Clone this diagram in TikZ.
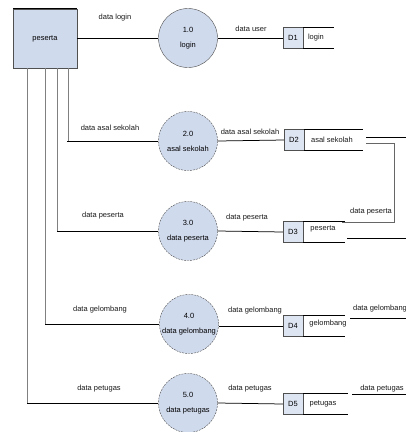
\documentclass[tikz,border=0pt]{standalone}
\usepackage{fontspec}
\setmainfont{Liberation Sans}
\usetikzlibrary{positioning}
\definecolor{procfill}{RGB}{208,218,237}
\definecolor{edgegray}{RGB}{80,80,80}
\tikzset{
  proc/.style={circle,draw=edgegray,fill=procfill,minimum size=59pt,inner sep=0pt,align=center,font=\fontsize{7.5}{15}\selectfont},
  procdash/.style={proc,dash pattern=on 2pt off 1pt},
  storeid/.style={rectangle,draw=edgegray,fill=procfill!70,minimum width=20pt,minimum height=21pt,inner sep=0pt,font=\fontsize{7.5}{8}\selectfont},
  lbl/.style={inner sep=0pt,font=\fontsize{7.5}{8}\selectfont,text=black!90},
  flow/.style={black,line width=0.75pt}
}
\begin{document}
\begin{tikzpicture}[x=1pt,y=-1pt]
\useasboundingbox (0,0) rectangle (406,432);
% external entity
\node[rectangle,draw=edgegray,fill=procfill,minimum width=64pt,minimum height=59pt,inner sep=0pt,font=\fontsize{7.5}{8}\selectfont] (peserta) at (45,38.5) {peserta};
\draw[line width=1.2pt] (peserta.north west) -- (peserta.north east);

% processes
\node[proc] (p1) at (188,38) {1.0\\login};
\node[procdash] (p2) at (188,141) {2.0\\asal sekolah};
\node[procdash] (p3) at (188,231) {3.0\\data peserta};
\node[procdash] (p4) at (189,324) {4.0\\data gelombang};
\node[procdash] (p5) at (188,403) {5.0\\data petugas};

% data stores
\node[storeid] (d1) at (293,38) {D1};
\draw[flow] (d1.north east) -- ++(31,0);
\draw[flow] (d1.south east) -- ++(31,0);
\node[lbl] (s1) at (316,38) {login};

\node[storeid] (d2) at (294,140) {D2};
\draw[flow] (d2.north east) -- ++(59,0);
\draw[flow] (d2.south east) -- ++(59,0);
\node[lbl] (s2) at (332,140) {asal sekolah};

\node[storeid] (d3) at (293,232) {D3};
\draw[flow] (d3.north east) -- ++(42,0);
\draw[flow] (d3.south east) -- ++(42,0);
\node[lbl] (s3) at (323,229) {peserta};

\node[storeid] (d4) at (293,326) {D4};
\draw[flow] (d4.north east) -- ++(42,0);
\draw[flow] (d4.south east) -- ++(42,0);
\node[lbl] (s4) at (328,324) {gelombang};

\node[storeid] (d5) at (293,404) {D5};
\draw[flow] (d5.north east) -- ++(45,0);
\draw[flow] (d5.south east) -- ++(45,0);
\node[lbl] (s5) at (323,404) {petugas};

% flows from peserta
\draw[flow] (peserta.east |- p1.west) -- (p1.west);
\draw[gray,line width=0.9pt] ([xshift=23pt]peserta.south) |- (p2.west);
\draw[gray,line width=0.9pt] ([xshift=12pt]peserta.south) |- (p3.west);
\draw[gray,line width=0.9pt] (peserta.south) |- (p4.west);
\draw[gray,line width=0.9pt] ([xshift=-18pt]peserta.south) |- (p5.west);
\draw[flow] (67,141) -- (p2.west);
\draw[flow] (57,231) -- (p3.west);
\draw[flow] (45,324) -- (p4.west);
\draw[flow] (27,403) -- (p5.west);
\node[lbl] (f1) at (115,18) {data login};
\node[lbl] (f2) at (110,128) {data asal sekolah};
\node[lbl] (f3) at (103,216) {data peserta};
\node[lbl] (f4) at (100,310) {data gelombang};
\node[lbl] (f5) at (99,389) {data petugas};

% flows to stores
\draw[flow] (p1.east) -- (d1.west);
\draw[flow] (p2.east) -- (d2.west);
\draw[flow] (p3.east) -- (d3.west);
\draw[flow] (p4.east |- d4.west) -- (d4.west);
\draw[flow] (p5.east) -- (d5.west);
\node[lbl] (g1) at (251,29) {data user};
\node[lbl] (g2) at (250,132) {data asal sekolah};
\node[lbl] (g3) at (247,218) {data peserta};
\node[lbl] (g4) at (255,311) {data gelombang};
\node[lbl] (g5) at (250,389) {data petugas};

% flows leaving stores
\coordinate (d2a) at (366,137);
\coordinate (d2b) at (366,143);
\coordinate (outa) at (406,137);
\coordinate (d3in) at (342,222);
\draw[flow] (d2a) -- (outa);
\draw[flow,gray!80!black] (d2b) -| (394,222) -- (d3in);
\node[lbl] (h3) at (371,212) {data peserta};
\coordinate (d3o) at (347,238);
\coordinate (outb) at (406,238);
\draw[flow] (d3o) -- (outb);
\coordinate (d4o) at (350,318);
\coordinate (outc) at (406,318);
\draw[flow] (d4o) -- (outc);
\node[lbl] (h4) at (380,309) {data gelombang};
\coordinate (d5o) at (352,394);
\coordinate (outd) at (406,394);
\draw[flow] (d5o) -- (outd);
\node[lbl] (h5) at (382,389) {data petugas};
\end{tikzpicture}
\end{document}
